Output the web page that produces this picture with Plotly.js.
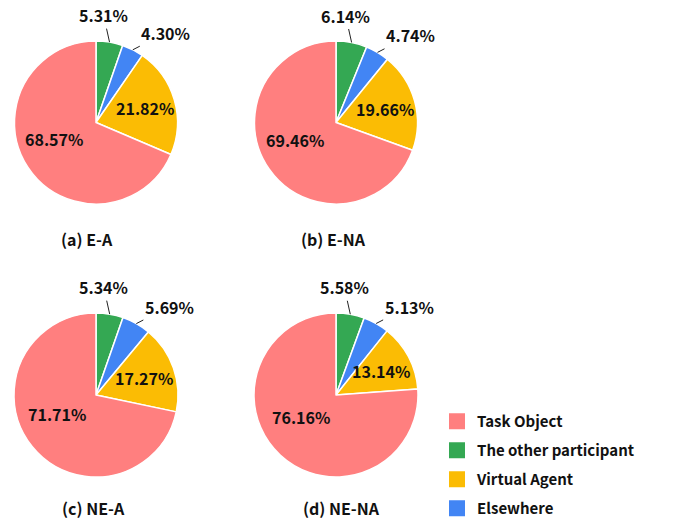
<!DOCTYPE html>
<html>
<head>
<meta charset="utf-8">
<script src="https://cdn.plot.ly/plotly-3.0.1.min.js"></script>
<style>html,body{margin:0;padding:0;background:#fff;}#chart{width:678px;height:525px;}</style>
</head>
<body>
<div id="chart"></div>
<script>
// Slice order (clockwise from 12 o'clock)
const sliceLabels = ["The other participant", "Elsewhere", "Virtual Agent", "Task Object"];
const legendLabels = ["Task Object", "The other participant", "Virtual Agent", "Elsewhere"];
const colorMap = {"Task Object": "#FF7F7F", "The other participant": "#34A853", "Virtual Agent": "#FBBC04", "Elsewhere": "#4285F4"};

const panelTitles = ["(a) E-A", "(b) E-NA", "(c) NE-A", "(d) NE-NA"];
const valuesEA   = [5.31, 4.30, 21.82, 68.57];
const valuesENA  = [6.14, 4.74, 19.66, 69.46];
const valuesNEA  = [5.34, 5.69, 17.27, 71.71];
const valuesNENA = [5.58, 5.13, 13.14, 76.16];

const W = 678, H = 525;
const px = (a, b) => [a / W, b / W];
const py = (top, bottom) => [1 - bottom / H, 1 - top / H];
const domains = [
  {x: px(14, 178), y: py(41, 204)},
  {x: px(254, 418), y: py(41, 204)},
  {x: px(14, 178), y: py(313, 477)},
  {x: px(254, 418), y: py(313, 477)}
];
const allValues = [valuesEA, valuesENA, valuesNEA, valuesNENA];
const FONT = "'Noto Sans CJK KR', 'Noto Sans', sans-serif";
const txtFont = {family: FONT, size: 16, color: '#111', weight: 'bold'};

const traces = [];
// legend entries (in legend order)
legendLabels.forEach((l, i) => {
  traces.push({
    type: 'scatter', mode: 'markers', x: [null], y: [null], name: l,
    legendgroup: 'g' + i,
    marker: {symbol: 'square', size: 16, color: colorMap[l]},
    hoverinfo: 'skip'
  });
});

const annotations = [];
allValues.forEach((vals, i) => {
  const d = domains[i];
  traces.push({
    type: 'pie',
    labels: sliceLabels,
    values: vals,
    sort: false,
    direction: 'clockwise',
    rotation: 0,
    domain: d,
    showlegend: false,
    marker: {colors: sliceLabels.map(l => colorMap[l]), line: {color: '#ffffff', width: 1.5}},
    textinfo: 'none',
    automargin: false,
    hoverinfo: 'label+value'
  });
  // pie geometry (pixels) from its domain
  const wpx = (d.x[1] - d.x[0]) * W, hpx = (d.y[1] - d.y[0]) * H;
  const cx = (d.x[0] + d.x[1]) / 2 * W;
  const cy = (1 - (d.y[0] + d.y[1]) / 2) * H;
  const R = Math.min(wpx, hpx) / 2;
  const total = vals.reduce((a, b) => a + b, 0);
  let cum = 0;
  vals.forEach((v, k) => {
    const mid = (cum + v / 2) / total * 2 * Math.PI;
    cum += v;
    const sx = Math.sin(mid), sy = -Math.cos(mid);
    const label = v.toFixed(2) + '%';
    if (k < 2) {
      // outside label with leader line
      const ex = cx + R * sx, ey = cy + R * sy;
      const off = k === 0 ? [-6, -27] : [33, -17];
      annotations.push({
        text: label, xref: 'paper', yref: 'paper',
        x: ex / W, y: 1 - ey / H, ax: off[0], ay: off[1],
        showarrow: true, arrowhead: 0, arrowwidth: 1, arrowcolor: '#222',
        standoff: 0, startstandoff: 0,
        font: txtFont
      });
    } else {
      const f = 0.62;
      const tx = cx + R * f * sx, ty = cy + R * f * sy * (k === 3 ? 0.6 : 1);
      annotations.push({
        text: label, xref: 'paper', yref: 'paper',
        x: tx / W, y: 1 - ty / H, xanchor: 'center', yanchor: 'middle',
        showarrow: false, font: txtFont
      });
    }
  });
});

const titlePos = [[87, 239], [333, 239], [93, 508], [341, 508]];
panelTitles.forEach((t, i) => annotations.push({
  text: t, xref: 'paper', yref: 'paper',
  x: titlePos[i][0] / W, y: 1 - titlePos[i][1] / H,
  xanchor: 'center', yanchor: 'middle', showarrow: false,
  font: txtFont
}));

const layout = {
  width: W, height: H,
  margin: {l: 0, r: 0, t: 0, b: 0},
  paper_bgcolor: '#fff',
  plot_bgcolor: 'rgba(0,0,0,0)',
  xaxis: {visible: false, domain: [0.99, 1]},
  yaxis: {visible: false, domain: [0.99, 1]},
  showlegend: true,
  legend: {
    x: 437 / W, y: 1 - 405 / H, xanchor: 'left', yanchor: 'top',
    font: {family: FONT, size: 15, color: '#111', weight: 'bold'},
    traceorder: 'grouped', tracegroupgap: 6.5
  },
  annotations: annotations
};

Plotly.newPlot('chart', traces, layout, {displayModeBar: false, staticPlot: true});
</script>
</body>
</html>
